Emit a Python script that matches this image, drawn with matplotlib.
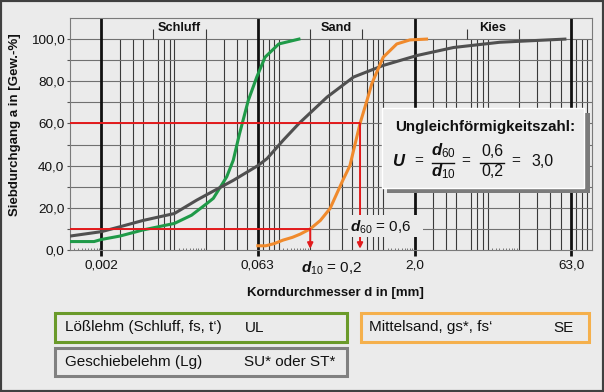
import matplotlib
matplotlib.use('Agg')
import matplotlib.pyplot as plt
from matplotlib.patches import Rectangle
from matplotlib.ticker import NullLocator
import numpy as np

plt.rcParams['font.family'] = ['Liberation Sans', 'DejaVu Sans']
plt.rcParams['mathtext.fontset'] = 'custom'
plt.rcParams['mathtext.rm'] = 'Liberation Sans'
plt.rcParams['mathtext.it'] = 'Liberation Sans:italic:bold'
plt.rcParams['mathtext.bf'] = 'Liberation Sans:bold'

# ---------------- data ----------------
loess_d = [0.001, 0.0017, 0.002, 0.003, 0.005, 0.01, 0.0146, 0.0204, 0.0236, 0.0317,
           0.0366, 0.042, 0.051, 0.0614, 0.0738, 0.1, 0.156]
loess_p = [4.0, 4.0, 5.0, 6.6, 9.5, 12.6, 16.5, 22.0, 24.5, 34.7,
           42.5, 55.0, 70.9, 81.9, 91.4, 97.7, 100.0]

geschiebe_d = [0.001, 0.002, 0.003, 0.005, 0.01, 0.0163, 0.02, 0.0366, 0.063, 0.077,
               0.11, 0.156, 0.29, 0.52, 1.0, 2.1, 4.7, 13.1, 55.0]
geschiebe_p = [6.6, 8.7, 11.0, 14.0, 17.3, 23.6, 26.0, 33.0, 40.0, 43.3,
               52.0, 60.0, 72.5, 82.0, 87.5, 92.2, 96.0, 98.5, 100.0]

mittelsand_d = [0.063, 0.075, 0.09, 0.11, 0.135, 0.16, 0.2, 0.25, 0.31, 0.41,
                0.48, 0.6, 0.7, 0.78, 1.0, 1.35, 1.8, 2.6]
mittelsand_p = [2.0, 2.0, 3.0, 4.7, 6.0, 7.5, 10.0, 14.0, 19.7, 33.0,
                40.0, 60.0, 71.0, 79.0, 91.4, 97.7, 99.6, 100.0]

bounds = [0.002, 0.063, 2.0, 63.0]
bound_labels = ['0,002', '0,063', '2,0', '63,0']
sub_bounds = [0.0063, 0.02, 0.2, 0.63, 6.3, 20.0]
regions = ['Schluff', 'Sand', 'Kies']

p10, p60 = 10, 60
d10, d60 = 0.2, 0.6
U = d60 / d10

legend_entries = [
    ('Lößlehm (Schluff, fs, t‘)', 'UL'),
    ('Mittelsand, gs*, fs‘', 'SE'),
    ('Geschiebelehm (Lg)', 'SU* oder ST*'),
]

# ---------------- style ----------------
W, H = 604, 392
bg = '#ebebeb'
green = '#1f9a48'
grey = '#505050'
orange = '#f08a2c'
red = '#e31a1c'


def fx(px):
    return px / W


def fy(py):
    return 1 - py / H


fig = plt.figure(figsize=(W / 100, H / 100), dpi=100)
fig.patch.set_facecolor(bg)
ax = fig.add_axes([fx(70), fy(250), 522 / W, 232 / H])
ax.set_facecolor(bg)
ax.set_xscale('log')
ax.set_xlim(0.001, 100)
ax.set_ylim(0, 110)

# grid
thin = []
for k in range(-3, 2):
    for m in (1, 2, 3, 4, 5, 7, 8, 9):
        v = m * 10.0 ** k
        if v <= 0.001 or v >= 100:
            continue
        if any(np.isclose(v, b) for b in bounds):
            continue
        thin.append(v)
ax.vlines(thin, 0, 100, colors='#3a3a3a', lw=0.8, zorder=1)
ax.hlines(np.arange(10, 101, 10), 0.001, 100, colors='#707070', lw=0.8, zorder=1)
ax.vlines(sub_bounds, 100, 105, colors='#3a3a3a', lw=0.8, zorder=1)
minor = [m / 10 * 10.0 ** k for k in range(-3, 2) for m in range(11, 20)]
ax.vlines(minor, 0, 0.9, colors='#666666', lw=0.6, zorder=1)
ax.vlines(bounds, -2.8, 110, colors='#111111', lw=2.0, zorder=2, clip_on=False)

for s in ax.spines.values():
    s.set_color('#7a7a7a')
    s.set_linewidth(0.8)

# ticks
yt = np.arange(0, 101, 10)
ax.set_yticks(yt)
ax.set_yticklabels([f'{v:.1f}'.replace('.', ',') if v % 20 == 0 else '' for v in yt])
ax.tick_params(axis='y', length=2.5, width=0.8, color='#555555', pad=1.5, labelsize=9.7,
               labelcolor='#111111')
ax.set_xticks(bounds)
ax.set_xticklabels(bound_labels)
ax.xaxis.set_minor_locator(NullLocator())
ax.tick_params(axis='x', length=0, pad=7, labelsize=9.7, labelcolor='#111111')

# region labels
edges = [0.002, 0.063, 2.0, 63.0]
for i, name in enumerate(regions):
    xc = np.sqrt(edges[i] * edges[i + 1])
    ax.text(xc, 105.3, name, ha='center', va='center', fontsize=9.2, fontweight='bold',
            color='#111111', zorder=3)

# curves
ax.plot(loess_d, loess_p, color=green, lw=2.2, zorder=4, solid_joinstyle='round')
ax.plot(geschiebe_d, geschiebe_p, color=grey, lw=2.2, zorder=4, solid_joinstyle='round')
ax.plot(mittelsand_d, mittelsand_p, color=orange, lw=2.2, zorder=4, solid_joinstyle='round')

# red construction lines
ax.plot([0.001, d10], [p10, p10], color=red, lw=1.4, zorder=5, solid_capstyle='butt')
ax.plot([0.001, d60], [p60, p60], color=red, lw=1.4, zorder=5, solid_capstyle='butt')
for d, p in ((d10, p10), (d60, p60)):
    ax.annotate('', xy=(d, 0.6), xytext=(d, p),
                arrowprops=dict(arrowstyle='-|>', color=red, lw=1.4, mutation_scale=8,
                                shrinkA=0, shrinkB=0), zorder=5)

# d60 label with background
fig.patches.append(Rectangle((fx(348), fy(237)), 75 / W, 22 / H, transform=fig.transFigure,
                             facecolor=bg, edgecolor='none', zorder=1))
fig.text(fx(381), fy(227), r'$d_{60}$ = 0,6', ha='center', va='center', fontsize=11,
         color='#111111', zorder=3)
fig.text(fx(332), fy(268), r'$d_{10}$ = 0,2', ha='center', va='center', fontsize=11,
         color='#111111', zorder=3)

# axis labels
fig.text(fx(335), fy(293), 'Korndurchmesser d in [mm]', ha='center', va='center',
         fontsize=9.5, fontweight='bold', color='#111111')
fig.text(fx(15), fy(125), 'Siebdurchgang a in [Gew.-%]', ha='center', va='center',
         rotation=90, fontsize=9.5, fontweight='bold', color='#111111')

# formula box
fig.patches.append(Rectangle((fx(387), fy(193)), 203 / W, 80 / H, transform=fig.transFigure,
                             facecolor='#7b7b7b', edgecolor='none', zorder=1))
fig.patches.append(Rectangle((fx(382), fy(188)), 202 / W, 80 / H, transform=fig.transFigure,
                             facecolor='#ededed', edgecolor='white', lw=1.0, zorder=1))
fig.text(fx(485), fy(127), 'Ungleichförmigkeitszahl:', ha='center', va='center',
         fontsize=10.9, fontweight='bold', color='#111111', zorder=3)
fig.text(fx(399), fy(161), r'$U$', ha='center', va='center', fontsize=12, color='#111111', zorder=3)
for xeq in (419, 466, 516):
    fig.text(fx(xeq), fy(161), '=', ha='center', va='center', fontsize=11, color='#222222', zorder=3)
fig.text(fx(443), fy(151), r'$d_{60}$', ha='center', va='center', fontsize=12, color='#111111', zorder=3)
fig.text(fx(443), fy(172), r'$d_{10}$', ha='center', va='center', fontsize=12, color='#111111', zorder=3)
fig.add_artist(plt.Line2D([fx(432), fx(454)], [fy(162.5), fy(162.5)], color='#111111', lw=1.0,
                          transform=fig.transFigure))
fig.text(fx(492), fy(151), f'{d60:.1f}'.replace('.', ','), ha='center', va='center', fontsize=11.5,
         color='#111111', zorder=3)
fig.text(fx(492), fy(172), f'{d10:.1f}'.replace('.', ','), ha='center', va='center', fontsize=11.5,
         color='#111111', zorder=3)
fig.add_artist(plt.Line2D([fx(480), fx(504)], [fy(162.5), fy(162.5)], color='#111111', lw=1.0,
                          transform=fig.transFigure))
fig.text(fx(543), fy(161), f'{U:.1f}'.replace('.', ','), ha='center', va='center', fontsize=11.5,
         color='#111111', zorder=3)

# legend boxes
boxes = [
    ((55, 313, 292, 29), '#6a9a2a', (65, 245)),
    ((361, 313, 228, 29), '#f5b04c', (369, 553)),
    ((55, 348, 292, 28), '#808080', (65, 244)),
]
for ((x0, y0, w, h), ec, (tx1, tx2)), (name, code) in zip(boxes, legend_entries):
    fig.patches.append(Rectangle((fx(x0), fy(y0 + h)), w / W, h / H, transform=fig.transFigure,
                                 facecolor='none', edgecolor=ec, lw=2.2, zorder=1))
    fig.text(fx(tx1), fy(y0 + h / 2), name, ha='left', va='center', fontsize=11, color='#111111')
    fig.text(fx(tx2), fy(y0 + h / 2), code, ha='left', va='center', fontsize=11, color='#111111')

# outer frame
fig.patches.append(Rectangle((0, 0), 1, 1, transform=fig.transFigure, fill=False,
                             edgecolor='#404040', lw=3, zorder=5))

fig.savefig('out.png', dpi=100, facecolor=bg)
